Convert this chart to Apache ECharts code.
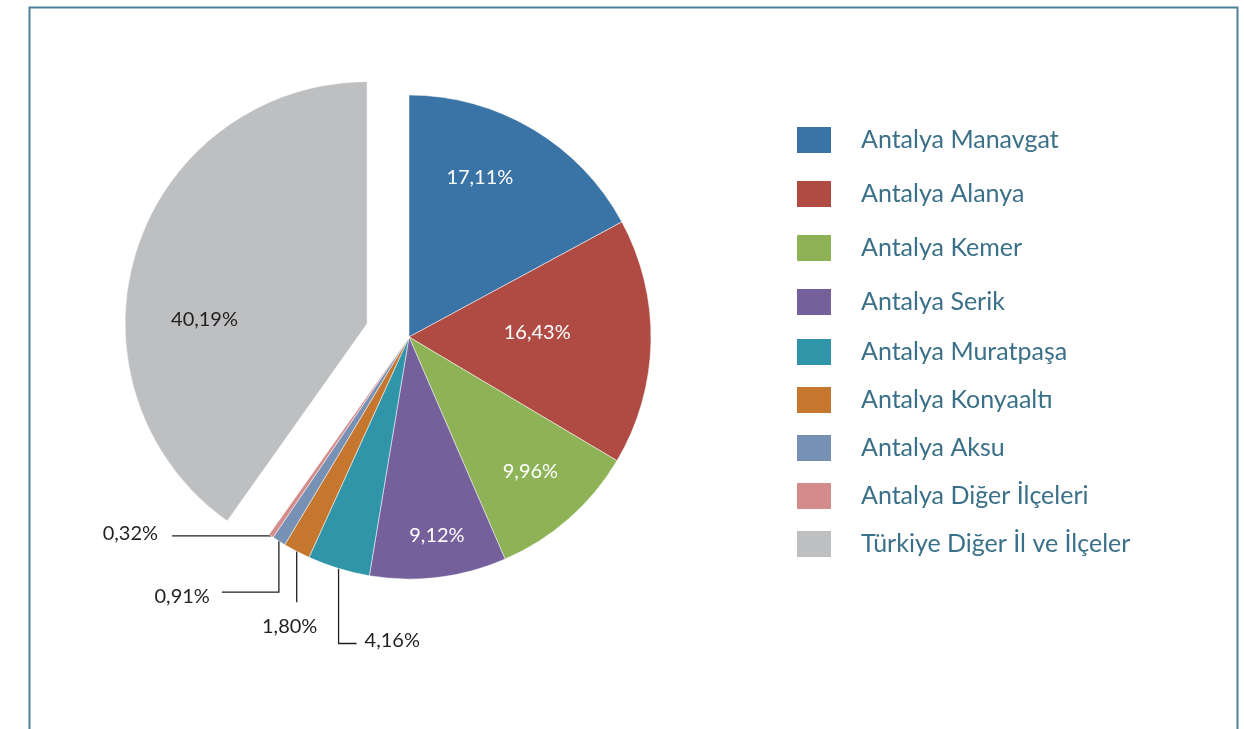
<!DOCTYPE html>
<html>
<head>
<meta charset="utf-8">
<script src="https://cdn.jsdelivr.net/npm/echarts@6/dist/echarts.min.js"></script>
<style>
  html, body { margin: 0; padding: 0; background: #fff; }
  #chart { width: 1244px; height: 729px; }
</style>
</head>
<body>
<div id="chart"></div>
<script>
const names = [
  'Antalya Manavgat', 'Antalya Alanya', 'Antalya Kemer', 'Antalya Serik',
  'Antalya Muratpaşa', 'Antalya Konyaaltı', 'Antalya Aksu',
  'Antalya Diğer İlçeleri', 'Türkiye Diğer İl ve İlçeler'
];
const shares = [17.11, 16.43, 9.96, 9.12, 4.16, 1.80, 0.91, 0.32, 40.19];
const colors = [
  '#3a74a7', '#b04b44', '#8db356', '#76609c', '#3195a9',
  '#c5772f', '#7791b4', '#d38c8b', '#bebfc1'
];

const CX = 409, CY = 337, R = 242, OFFSET = 44;
const explodedIndex = 8;
const total = shares.reduce((a, b) => a + b, 0);

// mid angle of slice i, radians, clockwise from 12 o'clock
function midAngle(i) {
  let before = 0;
  for (let j = 0; j < i; j++) before += shares[j];
  return (before + shares[i] / 2) / total * Math.PI * 2;
}
function polar(r, a, cx, cy) {
  return [cx + r * Math.sin(a), cy - r * Math.cos(a)];
}

// labels drawn on the slice: [fraction of radius, angle in degrees]
const insideLabel = { 0: [0.72, 24], 1: [0.53, 88], 2: [0.75, 138], 3: [0.83, 172], 8: [0.66, 271] };
// leader lines for the thin slices
const leader = {
  4: { down: 75, across: 18, align: 'left', gap: 8, dy: -3 },
  5: { down: 51, across: 0, align: 'center', gap: -7, dy: 14 },
  6: { down: 51, across: -57, align: 'right', gap: -12, dy: 5 },
  7: { down: 0, across: -99, align: 'right', gap: -14, dy: -2 }
};

const fmt = v => v.toFixed(2).replace('.', ',') + '%';

// the exploded slice keeps ECharts' own label spot (select state),
// so its text is nudged: uneven padding sideways, an empty first line downwards
function explodedLabelShift(i) {
  const a = midAngle(i);
  const o = polar(OFFSET, a, 0, 0);
  const def = polar(R / 2, a, CX + o[0], CY + o[1]);
  const want = polar(insideLabel[i][0] * R, insideLabel[i][1] * Math.PI / 180, CX + o[0], CY + o[1]);
  return [want[0] - def[0], want[1] - def[1]];
}

const pieData = names.map((name, i) => {
  const item = { name: name, value: shares[i], itemStyle: { color: colors[i] } };
  if (insideLabel[i]) {
    item.label = { position: 'inside', color: i === explodedIndex ? '#231f20' : '#ffffff' };
    item.labelLine = { show: false };
  } else {
    item.label = { position: 'outside', color: '#231f20' };
    item.labelLine = { show: true };
  }
  if (i === explodedIndex) {
    const s = explodedLabelShift(i);
    item.selected = true;
    item.label.padding = [0, Math.max(0, -2 * s[0]), 0, Math.max(0, 2 * s[0])];
    item.label.lineHeight = Math.abs(2 * s[1]);
    item.label.formatter = p => (s[1] > 0 ? '\n' + fmt(p.value) : fmt(p.value) + '\n');
  }
  return item;
});

const legendText = {
  fontFamily: 'Lato', fontSize: 25, color: '#3b7089', lineHeight: 28,
  padding: [0, 0, 0, 24]
};

const chart = echarts.init(document.getElementById('chart'));

const option = {
  animation: false,
  backgroundColor: '#ffffff',
  graphic: [{
    type: 'rect', silent: true,
    shape: { x: 29.5, y: 7.5, width: 1208, height: 790 },
    style: { fill: 'none', stroke: '#4e8198', lineWidth: 2 }
  }],
  legend: [
    {
      orient: 'vertical', left: 795, top: 125, padding: 0,
      itemWidth: 36, itemHeight: 28, itemGap: 24, icon: 'rect',
      selectedMode: false, data: names.slice(0, 4), textStyle: legendText
    },
    {
      orient: 'vertical', left: 795, top: 337, padding: 0,
      itemWidth: 36, itemHeight: 28, itemGap: 18, icon: 'rect',
      selectedMode: false, data: names.slice(4), textStyle: legendText
    }
  ],
  series: [{
    type: 'pie',
    center: [CX, CY],
    radius: R,
    startAngle: 90,
    clockwise: true,
    selectedMode: 'single',
    selectedOffset: OFFSET,
    avoidLabelOverlap: false,
    emphasis: { disabled: true },
    itemStyle: { borderColor: '#ffffff', borderWidth: 0.5 },
    label: {
      fontFamily: 'Lato', fontSize: 20,
      formatter: p => fmt(p.value)
    },
    labelLine: { lineStyle: { color: '#231f20', width: 1.3 } },
    labelLayout: function (p) {
      const i = p.dataIndex;
      if (i === explodedIndex) return {};
      if (insideLabel[i]) {
        const pos = polar(insideLabel[i][0] * R, insideLabel[i][1] * Math.PI / 180, CX, CY);
        return { x: pos[0], y: pos[1], align: 'center', verticalAlign: 'middle' };
      }
      const l = leader[i];
      const p0 = polar(R, midAngle(i), CX, CY);
      const p1 = [p0[0], p0[1] + l.down];
      const p2 = [p1[0] + l.across, p1[1]];
      return {
        x: p2[0] + l.gap,
        y: p2[1] + l.dy,
        align: l.align,
        verticalAlign: l.align === 'center' ? 'top' : 'middle',
        labelLinePoints: [p0, p1, p2]
      };
    },
    data: pieData
  }]
};

chart.setOption(option);
</script>
</body>
</html>
